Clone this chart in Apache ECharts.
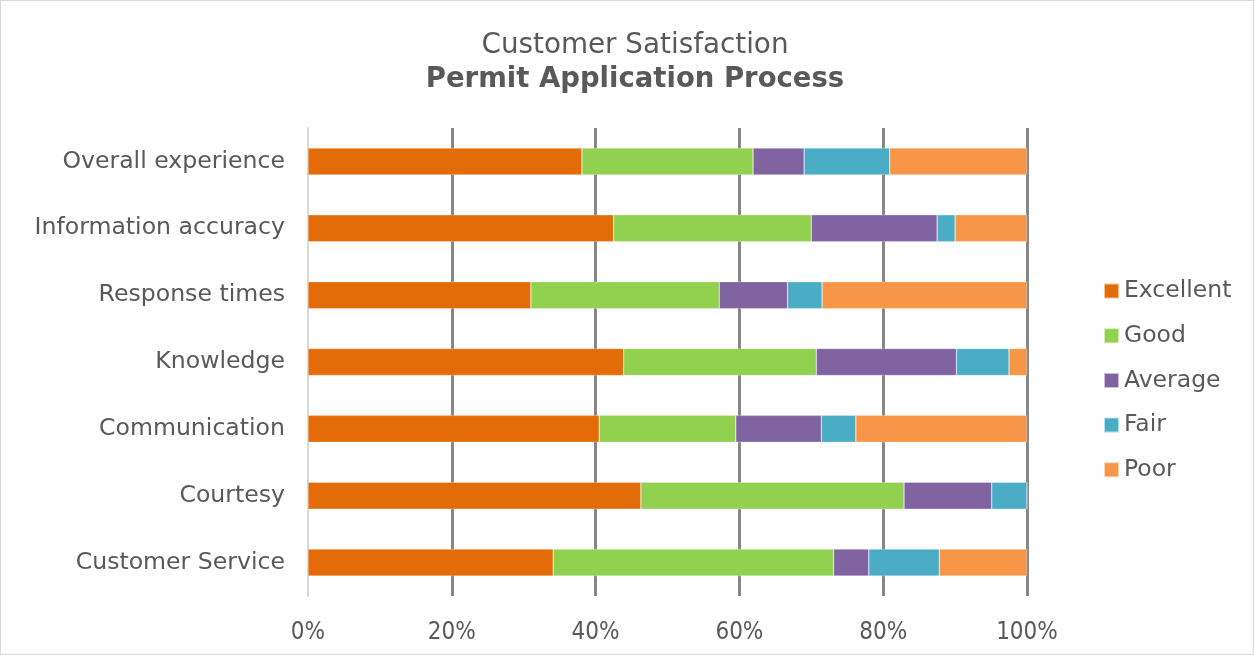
<!DOCTYPE html>
<html>
<head>
<meta charset="utf-8">
<script src="https://cdn.jsdelivr.net/npm/echarts@6/dist/echarts.min.js"></script>
<style>
  html, body { margin: 0; padding: 0; background: #fff; }
  #chart { width: 1254px; height: 655px; box-sizing: border-box; border: 1px solid #d9d9d9; }
</style>
</head>
<body>
<div id="chart"></div>
<script>
// bottom to top, as the category axis draws them
const categories = ['Customer Service', 'Courtesy', 'Communication', 'Knowledge', 'Response times', 'Information accuracy', 'Overall experience']
const excellent = [34.1, 46.3, 40.5, 43.9, 31.0, 42.5, 38.1]
const good = [39.0, 36.6, 19.0, 26.8, 26.2, 27.5, 23.8]
const average = [4.9, 12.2, 11.9, 19.5, 9.5, 17.5, 7.1]
const fair = [9.8, 4.9, 4.8, 7.3, 4.8, 2.5, 11.9]
const poor = [12.2, 0, 23.8, 2.5, 28.5, 10.0, 19.1]
const xTicks = [0, 20, 40, 60, 80, 100]

const seriesDefs = [
  { name: 'Excellent', data: excellent, color: '#e36c09' },
  { name: 'Good', data: good, color: '#92d050' },
  { name: 'Average', data: average, color: '#8064a2' },
  { name: 'Fair', data: fair, color: '#4bacc6' },
  { name: 'Poor', data: poor, color: '#f79646' }
]

const textColor = '#595959'
const font = 'DejaVu Sans, Verdana, sans-serif'

const chart = echarts.init(document.getElementById('chart'))

chart.setOption({
  animation: false,
  title: {
    text: 'Customer Satisfaction',
    subtext: 'Permit Application Process',
    left: 629,
    textAlign: 'center',
    top: 24,
    itemGap: 2,
    textStyle: { color: textColor, fontFamily: font, fontSize: 27.8, fontWeight: 'normal', lineHeight: 32 },
    subtextStyle: { color: textColor, fontFamily: font, fontSize: 27.5, fontWeight: 'bold', lineHeight: 32 }
  },
  legend: {
    orient: 'vertical',
    left: 1102,
    top: 278,
    padding: 0,
    itemWidth: 15,
    itemHeight: 15,
    itemGap: 20.7,
    icon: 'rect',
    textStyle: { color: textColor, fontFamily: font, fontSize: 23.5, lineHeight: 24 },
    data: seriesDefs.map(s => s.name)
  },
  grid: { left: 307, right: 226, top: 127, bottom: 58 },
  xAxis: {
    type: 'value',
    min: xTicks[0],
    max: xTicks[xTicks.length - 1],
    interval: 20,
    axisLine: { show: false },
    axisTick: { show: false },
    axisLabel: {
      color: textColor,
      fontFamily: 'DejaVu Sans Condensed, sans-serif',
      fontSize: 24,
      margin: 25,
      formatter: '{value}%'
    },
    splitLine: {
      show: true,
      showMinLine: false,
      lineStyle: { color: '#878787', width: 3 }
    }
  },
  yAxis: {
    type: 'category',
    data: categories,
    axisLine: { show: true, lineStyle: { color: '#d9d9d9', width: 2 } },
    axisTick: { show: false },
    axisLabel: { color: textColor, fontFamily: font, fontSize: 23.6, margin: 23 }
  },
  series: seriesDefs.map(s => ({
    name: s.name,
    type: 'bar',
    stack: 'total',
    barWidth: 27,
    data: s.data,
    itemStyle: { color: s.color, borderColor: 'rgba(255,255,255,0.6)', borderWidth: 0.5 }
  }))
})
</script>
</body>
</html>
